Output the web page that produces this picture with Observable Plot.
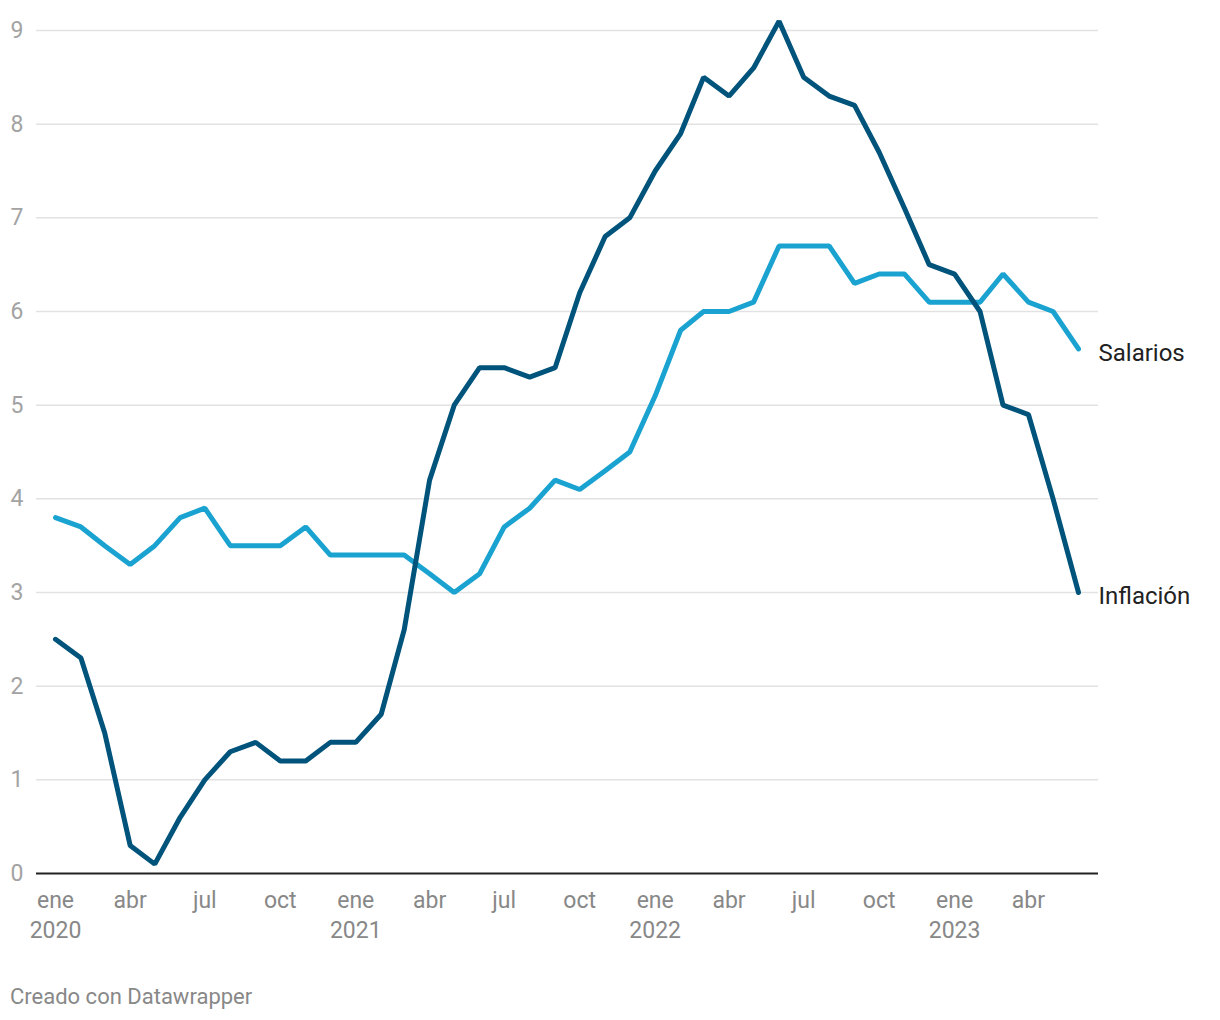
<!DOCTYPE html>
<html>
<head>
<meta charset="utf-8">
<script src="https://cdn.jsdelivr.net/npm/d3@7"></script>
<script src="https://cdn.jsdelivr.net/npm/@observablehq/plot@0.6"></script>
<style>
  html, body { margin: 0; padding: 0; background: #fff; }
  body { width: 1220px; height: 1020px; font-family: Roboto, "Noto Sans", sans-serif; }
  #caption { font-size: 22px; color: #888; margin-left: 10px; line-height: 24px; margin-top: 10px; }
</style>
</head>
<body>
<div id="chart"></div>
<div id="caption">Creado con Datawrapper</div>
<script>
const months = [
  "2020-01","2020-02","2020-03","2020-04","2020-05","2020-06","2020-07","2020-08","2020-09","2020-10","2020-11","2020-12",
  "2021-01","2021-02","2021-03","2021-04","2021-05","2021-06","2021-07","2021-08","2021-09","2021-10","2021-11","2021-12",
  "2022-01","2022-02","2022-03","2022-04","2022-05","2022-06","2022-07","2022-08","2022-09","2022-10","2022-11","2022-12",
  "2023-01","2023-02","2023-03","2023-04","2023-05","2023-06"
];
const inflacion = [
  2.5, 2.3, 1.5, 0.3, 0.1, 0.6, 1.0, 1.3, 1.4, 1.2, 1.2, 1.4,
  1.4, 1.7, 2.6, 4.2, 5.0, 5.4, 5.4, 5.3, 5.4, 6.2, 6.8, 7.0,
  7.5, 7.9, 8.5, 8.3, 8.6, 9.1, 8.5, 8.3, 8.2, 7.7, 7.1, 6.5,
  6.4, 6.0, 5.0, 4.9, 4.0, 3.0
];
const salarios = [
  3.8, 3.7, 3.5, 3.3, 3.5, 3.8, 3.9, 3.5, 3.5, 3.5, 3.7, 3.4,
  3.4, 3.4, 3.4, 3.2, 3.0, 3.2, 3.7, 3.9, 4.2, 4.1, 4.3, 4.5,
  5.1, 5.8, 6.0, 6.0, 6.1, 6.7, 6.7, 6.7, 6.3, 6.4, 6.4, 6.1,
  6.1, 6.1, 6.4, 6.1, 6.0, 5.6
];
const seriesNames = ["Salarios", "Inflación"];
const seriesColors = ["#1aa3d0", "#00537a"];
const monthLabels = ["ene","feb","mar","abr","may","jun","jul","ago","sep","oct","nov","dic"];
const yTicks = [0,1,2,3,4,5,6,7,8,9];

const parse = s => new Date(s + "-01T00:00:00Z");
const data = [];
months.forEach((m, i) => {
  data.push({date: parse(m), value: salarios[i], serie: seriesNames[0]});
  data.push({date: parse(m), value: inflacion[i], serie: seriesNames[1]});
});
const last = data.filter(d => +d.date === +parse(months[months.length - 1]));
const xTicks = months.filter((m, i) => i % 3 === 0).map(parse);

const chart = Plot.plot({
  width: 1220,
  height: 975,
  marginLeft: 36,
  marginRight: 122,
  marginTop: 30,
  marginBottom: 102,
  style: {fontFamily: "Roboto, sans-serif", background: "#fff"},
  x: {type: "utc", domain: [parse(months[0]), parse(months[months.length - 1])], insetLeft: 19, insetRight: 20},
  y: {domain: [0, 9]},
  color: {domain: seriesNames, range: seriesColors},
  marks: [
    Plot.ruleY(yTicks.filter(t => t > 0), {stroke: "#e2e2e2", strokeWidth: 1.5}),
    Plot.axisY({ticks: yTicks, tickSize: 0, tickPadding: 13, fontSize: 23, fill: "#a3a3a3", label: null}),
    Plot.axisX({
      ticks: xTicks, tickSize: 0, tickPadding: 13, fontSize: 23, fill: "#888", label: null, lineHeight: 1.3,
      tickFormat: d => monthLabels[d.getUTCMonth()] + (d.getUTCMonth() === 0 ? "\n" + d.getUTCFullYear() : "")
    }),
    Plot.ruleY([0], {stroke: "#222", strokeWidth: 2}),
    Plot.line(data, {x: "date", y: "value", z: "serie", stroke: "serie", strokeWidth: 5, strokeLinejoin: "miter", strokeLinecap: "round"}),
    Plot.text(last, {x: "date", y: "value", text: "serie", textAnchor: "start", dx: 20, dy: 4, fontSize: 24, fill: "#222"})
  ]
});
document.getElementById("chart").appendChild(chart);
</script>
</body>
</html>
